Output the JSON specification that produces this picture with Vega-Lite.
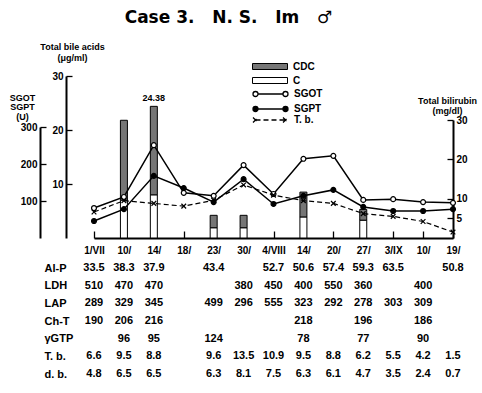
{
  "$schema": "https://vega.github.io/schema/vega-lite/v6.json",
  "width": 413,
  "height": 162,
  "autosize": {"type": "none"},
  "padding": {"left": 40, "top": 76, "right": 29, "bottom": 155},
  "background": "white",
  "title": {"text": "Case 3.\u00a0\u00a0 N. S.\u00a0\u00a0 Im\u00a0\u00a0 ♂", "fontSize": 17, "fontWeight": "bold", "font": "DejaVu Sans", "anchor": "middle", "dx": -18, "offset": 15, "color": "black"},
  "config": {
    "font": "Liberation Sans",
    "view": {"stroke": null},
    "axis": {"labelFont": "Liberation Sans", "labelFontWeight": "bold", "labelColor": "black", "domainColor": "black", "tickColor": "black", "grid": false, "titleColor": "black", "labelOverlap": false, "labelBound": false, "titleFont": "Liberation Sans", "titleFontWeight": "bold"},
    "legend": {"labelFont": "Liberation Sans", "labelFontWeight": "bold", "labelColor": "black", "labelFontSize": 10}
  },
  "datasets": {
    "enzymes": [
      {"date": "1/VII", "series": "SGOT", "value": 81},
      {"date": "10/VII", "series": "SGOT", "value": 111},
      {"date": "14/VII", "series": "SGOT", "value": 251},
      {"date": "18/VII", "series": "SGOT", "value": 122},
      {"date": "23/VII", "series": "SGOT", "value": 114},
      {"date": "30/VII", "series": "SGOT", "value": 197},
      {"date": "4/VIII", "series": "SGOT", "value": 119},
      {"date": "14/VIII", "series": "SGOT", "value": 214},
      {"date": "20/VIII", "series": "SGOT", "value": 222},
      {"date": "27/VIII", "series": "SGOT", "value": 103},
      {"date": "3/IX", "series": "SGOT", "value": 105},
      {"date": "10/IX", "series": "SGOT", "value": 97},
      {"date": "19/IX", "series": "SGOT", "value": 95},
      {"date": "1/VII", "series": "SGPT", "value": 46},
      {"date": "10/VII", "series": "SGPT", "value": 78},
      {"date": "14/VII", "series": "SGPT", "value": 168},
      {"date": "18/VII", "series": "SGPT", "value": 135},
      {"date": "23/VII", "series": "SGPT", "value": 97},
      {"date": "30/VII", "series": "SGPT", "value": 159},
      {"date": "4/VIII", "series": "SGPT", "value": 92},
      {"date": "14/VIII", "series": "SGPT", "value": 114},
      {"date": "20/VIII", "series": "SGPT", "value": 130},
      {"date": "27/VIII", "series": "SGPT", "value": 84},
      {"date": "3/IX", "series": "SGPT", "value": 73},
      {"date": "10/IX", "series": "SGPT", "value": 73},
      {"date": "19/IX", "series": "SGPT", "value": 78}
    ],
    "tb": [
      {"date": "1/VII", "series": "T. b.", "value": 6.6},
      {"date": "10/VII", "series": "T. b.", "value": 9.5},
      {"date": "14/VII", "series": "T. b.", "value": 8.8},
      {"date": "18/VII", "series": "T. b.", "value": 8.1},
      {"date": "23/VII", "series": "T. b.", "value": 9.6},
      {"date": "30/VII", "series": "T. b.", "value": 13.5},
      {"date": "4/VIII", "series": "T. b.", "value": 10.9},
      {"date": "14/VIII", "series": "T. b.", "value": 9.5},
      {"date": "20/VIII", "series": "T. b.", "value": 8.8},
      {"date": "27/VIII", "series": "T. b.", "value": 6.2},
      {"date": "3/IX", "series": "T. b.", "value": 5.5},
      {"date": "10/IX", "series": "T. b.", "value": 4.2},
      {"date": "19/IX", "series": "T. b.", "value": 1.5}
    ],
    "bile": [
      {"date": "10/VII", "type": "C", "value": 7.0},
      {"date": "10/VII", "type": "CDC", "value": 14.8},
      {"date": "14/VII", "type": "C", "value": 8.0},
      {"date": "14/VII", "type": "CDC", "value": 16.38},
      {"date": "23/VII", "type": "C", "value": 1.9},
      {"date": "23/VII", "type": "CDC", "value": 2.3},
      {"date": "30/VII", "type": "C", "value": 1.9},
      {"date": "30/VII", "type": "CDC", "value": 2.3},
      {"date": "14/VIII", "type": "C", "value": 3.9},
      {"date": "14/VIII", "type": "CDC", "value": 4.6},
      {"date": "27/VIII", "type": "C", "value": 3.3},
      {"date": "27/VIII", "type": "CDC", "value": 2.0}
    ],
    "table": [
      {"date": "1/VII", "row": "Al-P", "text": "33.5"},
      {"date": "10/VII", "row": "Al-P", "text": "38.3"},
      {"date": "14/VII", "row": "Al-P", "text": "37.9"},
      {"date": "23/VII", "row": "Al-P", "text": "43.4"},
      {"date": "4/VIII", "row": "Al-P", "text": "52.7"},
      {"date": "14/VIII", "row": "Al-P", "text": "50.6"},
      {"date": "20/VIII", "row": "Al-P", "text": "57.4"},
      {"date": "27/VIII", "row": "Al-P", "text": "59.3"},
      {"date": "3/IX", "row": "Al-P", "text": "63.5"},
      {"date": "19/IX", "row": "Al-P", "text": "50.8"},
      {"date": "1/VII", "row": "LDH", "text": "510"},
      {"date": "10/VII", "row": "LDH", "text": "470"},
      {"date": "14/VII", "row": "LDH", "text": "470"},
      {"date": "30/VII", "row": "LDH", "text": "380"},
      {"date": "4/VIII", "row": "LDH", "text": "450"},
      {"date": "14/VIII", "row": "LDH", "text": "400"},
      {"date": "20/VIII", "row": "LDH", "text": "550"},
      {"date": "27/VIII", "row": "LDH", "text": "360"},
      {"date": "10/IX", "row": "LDH", "text": "400"},
      {"date": "1/VII", "row": "LAP", "text": "289"},
      {"date": "10/VII", "row": "LAP", "text": "329"},
      {"date": "14/VII", "row": "LAP", "text": "345"},
      {"date": "23/VII", "row": "LAP", "text": "499"},
      {"date": "30/VII", "row": "LAP", "text": "296"},
      {"date": "4/VIII", "row": "LAP", "text": "555"},
      {"date": "14/VIII", "row": "LAP", "text": "323"},
      {"date": "20/VIII", "row": "LAP", "text": "292"},
      {"date": "27/VIII", "row": "LAP", "text": "278"},
      {"date": "3/IX", "row": "LAP", "text": "303"},
      {"date": "10/IX", "row": "LAP", "text": "309"},
      {"date": "1/VII", "row": "Ch-T", "text": "190"},
      {"date": "10/VII", "row": "Ch-T", "text": "206"},
      {"date": "14/VII", "row": "Ch-T", "text": "216"},
      {"date": "14/VIII", "row": "Ch-T", "text": "218"},
      {"date": "27/VIII", "row": "Ch-T", "text": "196"},
      {"date": "10/IX", "row": "Ch-T", "text": "186"},
      {"date": "10/VII", "row": "γGTP", "text": "96"},
      {"date": "14/VII", "row": "γGTP", "text": "95"},
      {"date": "23/VII", "row": "γGTP", "text": "124"},
      {"date": "14/VIII", "row": "γGTP", "text": "78"},
      {"date": "27/VIII", "row": "γGTP", "text": "77"},
      {"date": "10/IX", "row": "γGTP", "text": "90"},
      {"date": "1/VII", "row": "T. b.", "text": "6.6"},
      {"date": "10/VII", "row": "T. b.", "text": "9.5"},
      {"date": "14/VII", "row": "T. b.", "text": "8.8"},
      {"date": "23/VII", "row": "T. b.", "text": "9.6"},
      {"date": "30/VII", "row": "T. b.", "text": "13.5"},
      {"date": "4/VIII", "row": "T. b.", "text": "10.9"},
      {"date": "14/VIII", "row": "T. b.", "text": "9.5"},
      {"date": "20/VIII", "row": "T. b.", "text": "8.8"},
      {"date": "27/VIII", "row": "T. b.", "text": "6.2"},
      {"date": "3/IX", "row": "T. b.", "text": "5.5"},
      {"date": "10/IX", "row": "T. b.", "text": "4.2"},
      {"date": "19/IX", "row": "T. b.", "text": "1.5"},
      {"date": "1/VII", "row": "d. b.", "text": "4.8"},
      {"date": "10/VII", "row": "d. b.", "text": "6.5"},
      {"date": "14/VII", "row": "d. b.", "text": "6.5"},
      {"date": "23/VII", "row": "d. b.", "text": "6.3"},
      {"date": "30/VII", "row": "d. b.", "text": "8.1"},
      {"date": "4/VIII", "row": "d. b.", "text": "7.5"},
      {"date": "14/VIII", "row": "d. b.", "text": "6.3"},
      {"date": "20/VIII", "row": "d. b.", "text": "6.1"},
      {"date": "27/VIII", "row": "d. b.", "text": "4.7"},
      {"date": "3/IX", "row": "d. b.", "text": "3.5"},
      {"date": "10/IX", "row": "d. b.", "text": "2.4"},
      {"date": "19/IX", "row": "d. b.", "text": "0.7"}
    ]
  },
  "encoding": {
    "x": {
      "field": "date", "type": "ordinal",
      "scale": {"type": "point", "domain": ["1/VII","10/VII","14/VII","18/VII","23/VII","30/VII","4/VIII","14/VIII","20/VIII","27/VIII","3/IX","10/IX","19/IX"], "range": [54, 413], "padding": 0},
      "axis": {"title": null, "domainWidth": 2, "tickSize": -7, "tickWidth": 1.3, "labelPadding": 14, "labelFontSize": 10, "labelAngle": 0,
        "labelExpr": "indexof(['1/VII','4/VIII','3/IX'], datum.value) >= 0 ? datum.value : split(datum.value, '/')[0] + '/'"}
    }
  },
  "layer": [
    {
      "layer": [
        {
          "data": {"name": "bile"},
          "mark": {"type": "bar", "size": 7, "stroke": "black", "strokeWidth": 1},
          "encoding": {
            "y": {"field": "value", "type": "quantitative", "stack": "zero",
              "scale": {"domain": [0, 30], "range": [162, 0], "nice": false},
              "axis": {"orient": "left", "offset": -26, "values": [10, 20, 30], "tickSize": -6, "tickWidth": 1.3, "domainWidth": 2, "labelPadding": 9, "labelFontSize": 10,
                "title": ["Total bile acids", "(μg/ml)"], "titleAngle": 0, "titleAlign": "center", "titleBaseline": "top", "titleX": 6, "titleY": -34, "titleFontSize": 9, "titleLineHeight": 11}},
            "color": {"field": "type", "type": "nominal", "scale": {"domain": ["CDC", "C"], "range": ["#767676", "white"]},
              "legend": {"orient": "none", "legendX": 212, "legendY": -15, "title": null, "symbolType": "M-1,-0.6H6V0.6H-1Z", "symbolSize": 100, "symbolStrokeColor": "black", "symbolStrokeWidth": 1, "labelFontSize": 10, "rowPadding": 3, "labelOffset": 30}},
            "order": {"field": "type", "sort": "ascending"}
          }
        },
        {
          "data": {"values": [{"date": "14/VII", "value": 24.38, "label": "24.38"}]},
          "mark": {"type": "text", "fontSize": 9, "fontWeight": "bold", "baseline": "bottom", "dy": -3, "color": "black"},
          "encoding": {
            "y": {"field": "value", "type": "quantitative"},
            "text": {"field": "label"}
          }
        }
      ]
    },
    {
      "data": {"name": "enzymes"},
      "layer": [
        {
          "mark": {"type": "line", "color": "black", "strokeWidth": 1.5},
          "encoding": {
            "y": {"field": "value", "type": "quantitative",
              "scale": {"domain": [0, 300], "range": [162, 51], "nice": false},
              "axis": {"orient": "left", "offset": 0, "values": [100, 200, 300], "tickSize": -6, "tickWidth": 1.3, "domainWidth": 2, "labelPadding": 9, "labelFontSize": 10,
                "title": ["SGOT", "SGPT", "(U)"], "titleAngle": 0, "titleAlign": "center", "titleBaseline": "top", "titleX": -18, "titleY": 17, "titleFontSize": 9, "titleLineHeight": 9.5}},
            "detail": {"field": "series"}
          }
        },
        {
          "mark": {"type": "point", "shape": "circle", "filled": true, "stroke": "black", "strokeWidth": 1.2, "size": 24, "opacity": 1},
          "encoding": {
            "y": {"field": "value", "type": "quantitative"},
            "fill": {"field": "series", "type": "nominal", "scale": {"domain": ["SGOT", "SGPT"], "range": ["white", "black"]},
              "legend": {"orient": "none", "legendX": 212, "legendY": 12, "title": null, "symbolType": "M0,0H5M-1,0A0.5,0.5 0 1,0 0,0A0.5,0.5 0 1,0 -1,0ZM5,0A0.5,0.5 0 1,0 6,0A0.5,0.5 0 1,0 5,0Z", "symbolSize": 100, "symbolStrokeColor": "black", "symbolStrokeWidth": 1.3, "labelFontSize": 10, "rowPadding": 3, "labelOffset": 30}}
          }
        }
      ]
    },
    {
      "data": {"name": "tb"},
      "layer": [
        {
          "mark": {"type": "line", "color": "black", "strokeWidth": 1.2},
          "encoding": {
            "y": {"field": "value", "type": "quantitative",
              "scale": {"domain": [0, 30], "range": [162, 44], "nice": false},
              "axis": {"orient": "right", "offset": 0, "values": [5, 10, 20, 30], "tickSize": -6, "tickWidth": 1.3, "domainWidth": 2, "labelPadding": 9, "labelFontSize": 10,
                "title": ["Total bilirubin", "(mg/dl)"], "titleAngle": 0, "titleAlign": "center", "titleBaseline": "top", "titleX": -6, "titleY": 20, "titleFontSize": 9, "titleLineHeight": 10}},
            "strokeDash": {"field": "series", "type": "nominal", "scale": {"domain": ["T. b."], "range": [[5, 3]]},
              "legend": {"orient": "none", "legendX": 212, "legendY": 38, "title": null, "symbolType": "M-0.5,0H5.5M-1,-0.5L0,0.5M-1,0.5L0,-0.5M5,-0.5L6,0.5M5,0.5L6,-0.5", "symbolSize": 100, "symbolStrokeColor": "black", "symbolStrokeWidth": 1.3, "labelFontSize": 10, "rowPadding": 3, "labelOffset": 30}}
          }
        },
        {
          "mark": {"type": "point", "shape": "M-1,-1L1,1M-1,1L1,-1", "filled": false, "stroke": "black", "strokeWidth": 1.2, "size": 22, "opacity": 1},
          "encoding": {
            "y": {"field": "value", "type": "quantitative"}
          }
        }
      ]
    },
    {
      "data": {"name": "table"},
      "mark": {"type": "text", "fontSize": 11, "fontWeight": "bold", "color": "black", "baseline": "middle"},
      "encoding": {
        "y": {"field": "row", "type": "nominal",
          "scale": {"type": "point", "domain": ["Al-P", "LDH", "LAP", "Ch-T", "γGTP", "T. b.", "d. b."], "range": [192, 298], "padding": 0},
          "axis": {"orient": "left", "offset": 0, "title": null, "domain": false, "ticks": false, "labelAlign": "left", "labelPadding": -4, "labelFontSize": 11, "labelFontWeight": "bold"}},
        "text": {"field": "text"}
      }
    }
  ],
  "resolve": {"scale": {"y": "independent"}, "axis": {"y": "independent"}}
}
